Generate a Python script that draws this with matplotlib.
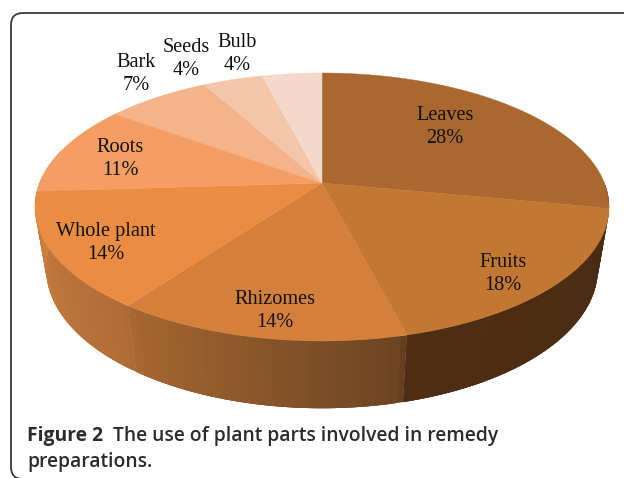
import numpy as np
import matplotlib.pyplot as plt
from matplotlib.patches import FancyBboxPatch

labels = ['Leaves', 'Fruits', 'Rhizomes', 'Whole plant', 'Roots', 'Bark', 'Seeds', 'Bulb']
shares = [28, 18, 14, 14, 11, 7, 4, 4]
label_x = [445, 503, 275, 106, 120, 136, 186, 237]
label_y = [127, 274, 311, 243, 159, 74, 59, 54]
top_colors = ['#A9682F', '#C27733', '#D4803C', '#EA8D42', '#F49E64', '#F3B48B', '#F4C6A9', '#F4D9CB']

# perspective of the tilted disc, in pixels
CX, CY = 322.0, 183.0
A, B, K = 282.4, 129.7, 0.179
DROP, M = 64.0, 0.039


def project(theta, bottom=False):
    u, v = np.sin(theta), np.cos(theta)
    if bottom:
        w = 1 + M + K * v
        return CX + A * u / w, CY - (B * v - DROP) / w
    w = 1 + K * v
    return CX + A * u / w, CY - B * v / w


def wall_color(theta):
    # shade of the side wall, by angle clockwise from the back
    deg = np.degrees(theta)
    stops = [100, 165.5, 165.7, 216, 216.1, 270]
    reds = [72, 78, 108, 168, 176, 206]
    greens = [44, 46, 68, 104, 108, 130]
    blues = [20, 20, 34, 50, 54, 66]
    return (np.interp(deg, stops, reds) / 255,
            np.interp(deg, stops, greens) / 255,
            np.interp(deg, stops, blues) / 255)


fig = plt.figure(figsize=(6.24, 4.78), dpi=100)
ax = fig.add_axes([0, 0, 1, 1])
ax.set_xlim(0, 624)
ax.set_ylim(478, 0)
ax.axis('off')

frame = FancyBboxPatch((11, 13), 640, 466, boxstyle='round,pad=0,rounding_size=12',
                       fc='white', ec='#3a3a3a', lw=1.3)
ax.add_patch(frame)

fractions = np.cumsum([0] + shares) / sum(shares)
angles = fractions * 2 * np.pi

# side wall, slice by slice; strips overlap so the shading has no seams
wall_parts = [(np.pi / 2, angles[1]), (angles[1], angles[2]), (angles[2], angles[3]),
              (angles[3], angles[4]), (angles[4], np.radians(285))]
for start, end in wall_parts:
    edges = np.linspace(start, end, 50)
    for i in range(len(edges) - 1):
        arc = np.linspace(edges[i], edges[min(i + 3, len(edges) - 1)], 5)
        xt, yt = project(arc)
        xb, yb = project(arc[::-1], bottom=True)
        ax.fill(np.r_[xt, xb], np.r_[yt, yb], color=wall_color(edges[i] + 1e-3), lw=0)

# top face
for i in range(len(shares)):
    arc = np.linspace(angles[i], angles[i + 1], 80)
    xs, ys = project(arc)
    ax.fill(np.r_[CX, xs], np.r_[CY, ys], color=top_colors[i], lw=0.3)

for name, share, x, y in zip(labels, shares, label_x, label_y):
    ax.text(x, y, '%s\n%d%%' % (name, share), family='Liberation Serif', fontsize=14.6,
            ha='center', va='center', color='#111111', linespacing=1.27)

ax.text(27, 441, 'Figure 2', family='Open Sans', fontsize=13.9, weight='bold',
        color='#2b2b2e', va='baseline')
ax.text(113, 441, 'The use of plant parts involved in remedy', family='Open Sans', fontsize=13.9,
        weight='semibold', color='#2b2b2e', va='baseline')
ax.text(27, 467, 'preparations.', family='Open Sans', fontsize=13.9, weight='semibold',
        color='#2b2b2e', va='baseline')

fig.savefig('out.png', dpi=100)
